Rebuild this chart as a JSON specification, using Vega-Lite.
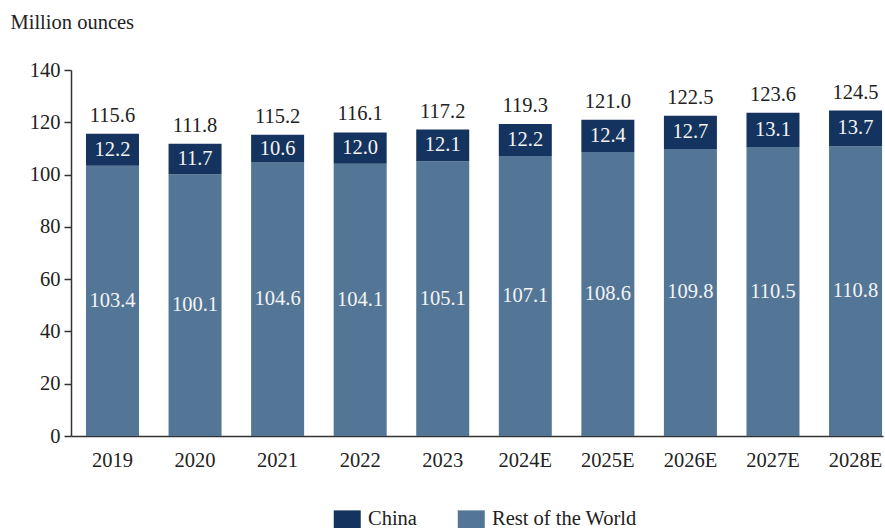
{
  "$schema": "https://vega.github.io/schema/vega-lite/v6.json",
  "width": 812,
  "height": 366,
  "autosize": "none",
  "padding": {"left": 71, "top": 70, "right": 2, "bottom": 92},
  "background": "white",
  "config": {
    "font": "Liberation Serif",
    "view": {"stroke": null},
    "axis": {"labelFont": "Liberation Serif", "titleFont": "Liberation Serif", "labelFontSize": 20.5, "labelColor": "#222222", "domainColor": "#333333", "tickColor": "#333333", "domainWidth": 1.5, "tickWidth": 1.5, "grid": false},
    "legend": {"labelFont": "Liberation Serif", "labelFontSize": 20.5, "labelColor": "#222222"}
  },
  "data": {
    "values": [
      {"year": "2019", "series": "Rest of the World", "value": 103.4},
      {"year": "2019", "series": "China", "value": 12.2},
      {"year": "2020", "series": "Rest of the World", "value": 100.1},
      {"year": "2020", "series": "China", "value": 11.7},
      {"year": "2021", "series": "Rest of the World", "value": 104.6},
      {"year": "2021", "series": "China", "value": 10.6},
      {"year": "2022", "series": "Rest of the World", "value": 104.1},
      {"year": "2022", "series": "China", "value": 12.0},
      {"year": "2023", "series": "Rest of the World", "value": 105.1},
      {"year": "2023", "series": "China", "value": 12.1},
      {"year": "2024E", "series": "Rest of the World", "value": 107.1},
      {"year": "2024E", "series": "China", "value": 12.2},
      {"year": "2025E", "series": "Rest of the World", "value": 108.6},
      {"year": "2025E", "series": "China", "value": 12.4},
      {"year": "2026E", "series": "Rest of the World", "value": 109.8},
      {"year": "2026E", "series": "China", "value": 12.7},
      {"year": "2027E", "series": "Rest of the World", "value": 110.5},
      {"year": "2027E", "series": "China", "value": 13.1},
      {"year": "2028E", "series": "Rest of the World", "value": 110.8},
      {"year": "2028E", "series": "China", "value": 13.7}
    ]
  },
  "encoding": {
    "x": {
      "field": "year",
      "type": "nominal",
      "sort": null,
      "scale": {"paddingInner": 0.358, "paddingOuter": 0.0966, "align": 0.94},
      "axis": {"title": null, "labelAngle": 0, "ticks": false, "labelPadding": 14}
    }
  },
  "layer": [
    {
      "mark": {"type": "bar"},
      "encoding": {
        "y": {
          "field": "value",
          "type": "quantitative",
          "stack": "zero",
          "scale": {"domain": [0, 140], "nice": false},
          "axis": {
            "values": [0, 20, 40, 60, 80, 100, 120, 140],
            "tickSize": 7,
            "labelPadding": 4,
            "title": "Million ounces",
            "titleAngle": 0,
            "titleAlign": "left",
            "titleBaseline": "alphabetic",
            "titleX": -61,
            "titleY": -42,
            "titleFontSize": 20.5,
            "titleFontWeight": "normal",
            "titleColor": "#222222"
          }
        },
        "color": {
          "field": "series",
          "type": "nominal",
          "scale": {"domain": ["China", "Rest of the World"], "range": ["#14335e", "#537697"]},
          "legend": {
            "title": null,
            "orient": "none",
            "direction": "horizontal",
            "legendX": 266,
            "legendY": 439,
            "symbolType": "M-1.5,-1H1.5V1H-1.5Z",
            "symbolSize": 324,
            "symbolStrokeWidth": 0,
            "symbolOpacity": 1,
            "labelOffset": 10.5,
            "columnPadding": 40
          }
        },
        "order": {"field": "series", "sort": "descending"}
      }
    },
    {
      "transform": [
        {"stack": "value", "groupby": ["year"], "sort": [{"field": "series", "order": "descending"}], "as": ["v0", "v1"]},
        {"calculate": "(datum.v0 + datum.v1) / 2", "as": "mid"}
      ],
      "mark": {"type": "text", "fontSize": 20.5, "color": "#f4f4f4", "baseline": "middle"},
      "encoding": {
        "y": {"field": "mid", "type": "quantitative"},
        "text": {"field": "value", "type": "quantitative", "format": ".1f"}
      }
    },
    {
      "transform": [
        {"aggregate": [{"op": "sum", "field": "value", "as": "total"}], "groupby": ["year"]}
      ],
      "mark": {"type": "text", "fontSize": 20.5, "color": "#222222", "baseline": "bottom", "dy": -8},
      "encoding": {
        "y": {"field": "total", "type": "quantitative"},
        "text": {"field": "total", "type": "quantitative", "format": ".1f"}
      }
    }
  ]
}
